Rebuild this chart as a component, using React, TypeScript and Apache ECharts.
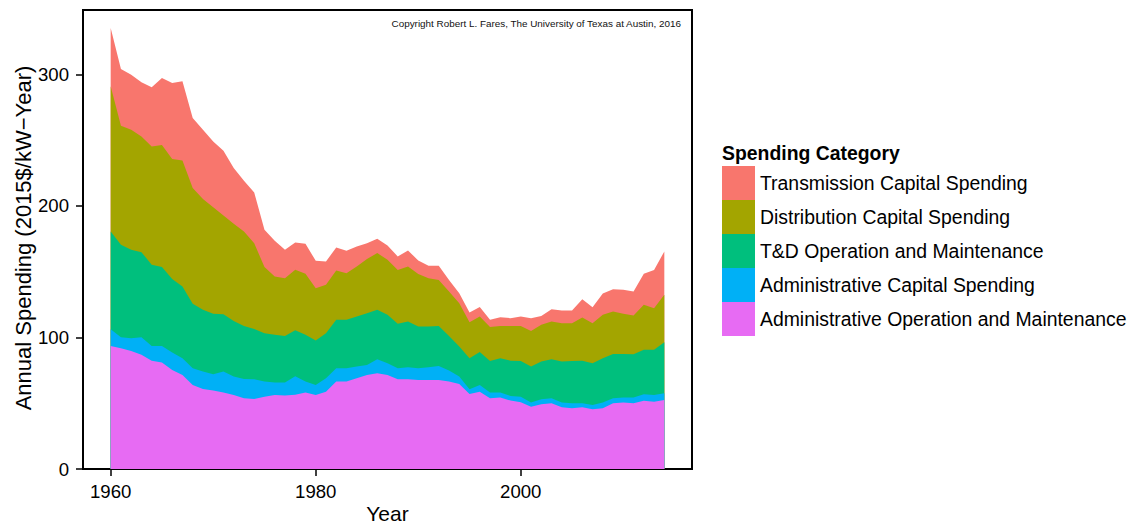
import { useEffect, useRef } from 'react'
import * as echarts from 'echarts'

const years = [
  1960, 1961, 1962, 1963, 1964, 1965, 1966, 1967, 1968, 1969,
  1970, 1971, 1972, 1973, 1974, 1975, 1976, 1977, 1978, 1979,
  1980, 1981, 1982, 1983, 1984, 1985, 1986, 1987, 1988, 1989,
  1990, 1991, 1992, 1993, 1994, 1995, 1996, 1997, 1998, 1999,
  2000, 2001, 2002, 2003, 2004, 2005, 2006, 2007, 2008, 2009,
  2010, 2011, 2012, 2013, 2014,
]

// 2015$/kW-Year, one value per year, bottom layer first
const adminOM = [
  93.6, 91.8, 89.8, 86.8, 82.4, 80.9, 75.3, 71.5, 63.9, 60.9,
  59.6, 58.1, 56.3, 53.8, 53.3, 55.0, 56.3, 55.8, 56.5, 58.1,
  56.3, 58.8, 66.5, 66.5, 69.0, 71.5, 72.8, 71.5, 68.3, 68.3,
  67.7, 67.7, 67.7, 66.5, 64.7, 57.1, 58.8, 53.8, 54.3, 52.0,
  50.8, 47.4, 49.2, 50.0, 47.0, 46.2, 47.0, 45.4, 46.2, 50.0,
  50.5, 50.0, 51.8, 51.2, 52.5,
]
const adminCap = [
  12.7, 8.4, 9.7, 13.4, 11.2, 12.7, 13.2, 12.7, 12.7, 13.2,
  12.5, 16.0, 14.0, 14.7, 15.0, 11.5, 9.4, 9.9, 14.0, 8.4,
  7.6, 10.2, 10.1, 10.1, 8.9, 7.6, 10.7, 8.9, 8.3, 9.1,
  8.9, 9.7, 10.7, 8.3, 5.6, 3.5, 5.1, 4.3, 3.8, 3.6,
  4.2, 3.1, 3.8, 3.8, 3.5, 3.8, 3.0, 3.3, 4.3, 3.8,
  3.8, 4.3, 5.0, 5.1, 5.1,
]
const tdOM = [
  74.3, 70.3, 67.2, 64.7, 61.7, 59.9, 55.9, 54.5, 49.0, 46.9,
  45.9, 43.6, 42.3, 40.3, 38.2, 36.8, 36.3, 35.5, 35.0, 35.5,
  33.8, 34.3, 36.8, 36.8, 38.0, 39.4, 37.5, 36.8, 33.8, 34.7,
  31.7, 30.9, 30.4, 26.4, 22.8, 23.6, 25.0, 24.0, 26.1, 26.8,
  27.2, 27.4, 28.7, 29.7, 31.2, 32.2, 32.4, 31.7, 33.7, 33.7,
  33.2, 33.0, 33.8, 34.3, 38.8,
]
const distCap = [
  110.4, 90.5, 91.3, 88.0, 90.0, 92.8, 91.3, 95.9, 88.0, 84.2,
  81.1, 75.1, 73.9, 71.8, 65.2, 50.2, 44.4, 43.9, 46.0, 46.4,
  39.8, 36.7, 37.5, 35.5, 38.1, 41.1, 43.2, 41.9, 41.0, 41.9,
  39.9, 36.8, 35.0, 33.7, 33.0, 27.4, 27.0, 25.9, 24.6, 26.4,
  26.6, 27.1, 27.9, 28.6, 29.2, 28.7, 32.8, 30.5, 33.0, 32.2,
  30.5, 29.4, 34.2, 31.7, 36.0,
]
const transCap = [
  44.4, 43.2, 41.8, 41.1, 44.9, 51.0, 57.8, 60.2, 53.3, 52.8,
  50.0, 49.2, 42.3, 38.6, 38.6, 28.4, 27.1, 21.6, 20.8, 22.8,
  20.8, 17.8, 17.5, 17.0, 15.2, 12.1, 10.8, 10.9, 10.2, 12.2,
  10.3, 9.4, 10.7, 8.9, 7.6, 7.4, 7.3, 5.4, 6.6, 5.9,
  7.1, 9.7, 6.8, 9.4, 9.6, 9.6, 13.9, 12.1, 16.2, 17.0,
  18.2, 18.2, 23.6, 29.1, 33.0,
]

const names = [
  'Administrative Operation and Maintenance',
  'Administrative Capital Spending',
  'T&D Operation and Maintenance',
  'Distribution Capital Spending',
  'Transmission Capital Spending',
]
const colors = ['#E76BF3', '#00B0F6', '#00BF7D', '#A3A500', '#F8766D']

const xTicks = [1960, 1980, 2000]
const yTicks = [0, 100, 200, 300]

const font = '"Liberation Sans", Arial, Helvetica, sans-serif'

export default function App() {
  const ref = useRef<HTMLDivElement>(null)

  useEffect(() => {
    if (!ref.current) return
    const chart = echarts.init(ref.current, undefined, { renderer: 'svg' })

    // running totals, so every layer is drawn down to zero and the next one covers it
    const layers = [adminOM, adminCap, tdOM, distCap, transCap]
    const tops: number[][] = []
    let run = years.map(() => 0)
    layers.forEach((arr) => {
      run = run.map((v, i) => +(v + arr[i]).toFixed(2))
      tops.push(run)
    })

    const order = [4, 3, 2, 1, 0]

    chart.setOption({
      animation: false,
      grid: {
        left: 83,
        top: 10,
        width: 609,
        height: 459,
        show: true,
        borderColor: '#000',
        borderWidth: 2,
        backgroundColor: 'transparent',
      },
      xAxis: {
        type: 'value',
        min: 1957.3,
        max: 2016.7,
        splitLine: { show: false },
        axisLine: { show: true, onZero: false, lineStyle: { color: '#000', width: 2 } },
        axisTick: { show: true, length: 7, customValues: xTicks, lineStyle: { color: '#000', width: 1.5 } },
        axisLabel: {
          customValues: xTicks,
          formatter: (v: number) => String(v),
          margin: 13,
          fontSize: 18.6,
          color: '#000',
          fontFamily: font,
        },
      },
      yAxis: {
        type: 'value',
        min: 0,
        max: 349,
        splitLine: { show: false },
        axisLine: { show: true, onZero: false, lineStyle: { color: '#000', width: 2 } },
        axisTick: { show: true, length: 7, customValues: yTicks, lineStyle: { color: '#000', width: 1.5 } },
        axisLabel: {
          customValues: yTicks,
          formatter: (v: number) => String(v),
          margin: 14,
          fontSize: 18.6,
          color: '#000',
          fontFamily: font,
        },
      },
      legend: {
        orient: 'vertical',
        left: 722,
        top: 166,
        padding: 0,
        itemWidth: 33,
        itemHeight: 34,
        itemGap: 0,
        icon: 'rect',
        selectedMode: false,
        itemStyle: { borderWidth: 0 },
        textStyle: { fontSize: 19.4, color: '#000', fontFamily: font },
        data: order.map((i) => names[i]),
      },
      graphic: [
        {
          type: 'text',
          x: 23,
          y: 238,
          rotation: Math.PI / 2,
          style: {
            text: 'Annual Spending (2015$/kW\u2212Year)',
            fontSize: 22,
            fill: '#000',
            fontFamily: font,
            align: 'center',
            verticalAlign: 'middle',
          },
        },
        {
          type: 'text',
          x: 387.5,
          y: 513,
          style: {
            text: 'Year',
            fontSize: 21,
            fill: '#000',
            fontFamily: font,
            align: 'center',
            verticalAlign: 'middle',
          },
        },
        {
          type: 'text',
          x: 681,
          y: 23,
          style: {
            text: 'Copyright Robert L. Fares, The University of Texas at Austin, 2016',
            fontSize: 9.9,
            fill: '#111',
            fontFamily: font,
            align: 'right',
            verticalAlign: 'middle',
          },
        },
        {
          type: 'text',
          x: 722,
          y: 153,
          style: {
            text: 'Spending Category',
            fontSize: 19.4,
            fontWeight: 'bold',
            fill: '#000',
            fontFamily: font,
            align: 'left',
            verticalAlign: 'middle',
          },
        },
      ],
      series: order.map((i) => ({
        name: names[i],
        type: 'line',
        data: years.map((y, j) => [y, tops[i][j]]),
        symbol: 'none',
        silent: true,
        lineStyle: { width: 0 },
        itemStyle: { color: colors[i] },
        areaStyle: { color: colors[i], opacity: 1 },
      })),
    })

    return () => chart.dispose()
  }, [])

  return (
    <div
      ref={ref}
      style={{ position: 'fixed', left: 0, top: 0, width: 1131, height: 523, background: '#fff' }}
    />
  )
}
